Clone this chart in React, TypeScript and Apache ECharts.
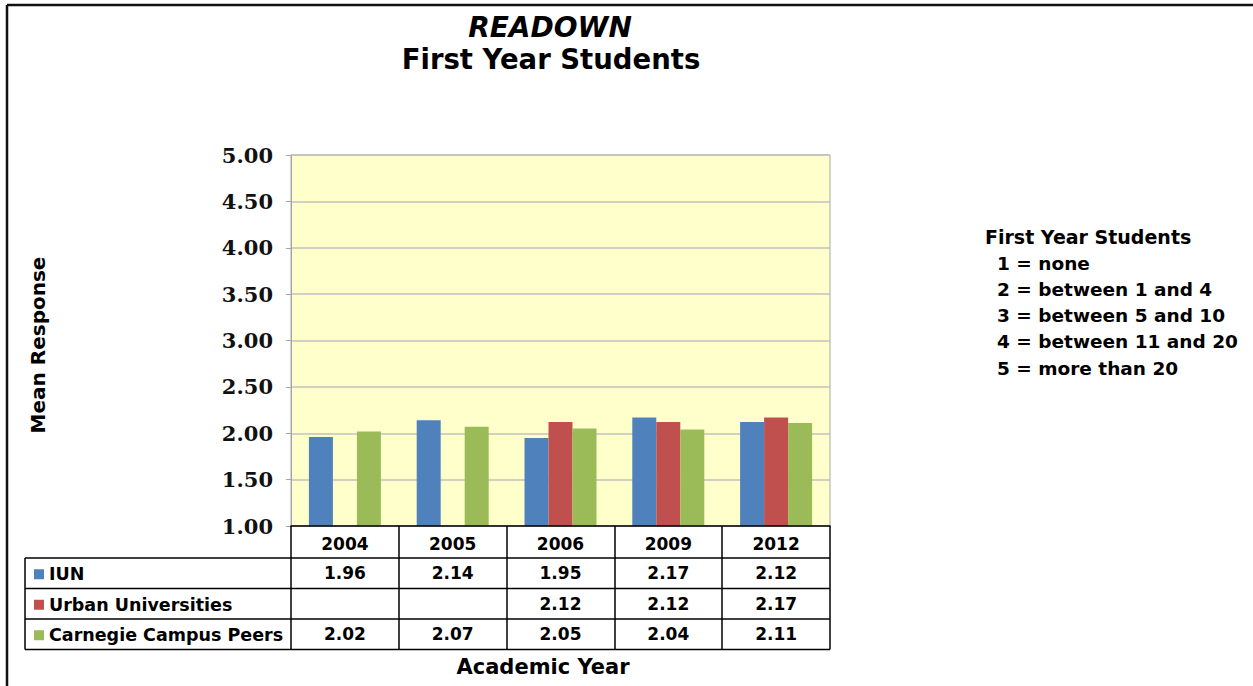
import React, { useEffect, useRef } from "react";
import * as echarts from "echarts";

const years = ["2004", "2005", "2006", "2009", "2012"];
const seriesNames = ["IUN", "Urban Universities", "Carnegie Campus Peers"];
const iun = [1.96, 2.14, 1.95, 2.17, 2.12];
const urban = [null, null, 2.12, 2.12, 2.17];
const carnegie = [2.02, 2.07, 2.05, 2.04, 2.11];
const colors = ["#4F81BD", "#C0504D", "#9BBB59"];
const yTicks = { min: 1, max: 5, interval: 0.5 };
const scaleTitle = "First Year Students";
const scaleLines = [
  "1 = none",
  "2 = between 1 and 4",
  "3 = between 5 and 10",
  "4 = between 11 and 20",
  "5 = more than 20",
];

const SANS = "'DejaVu Sans', Verdana, sans-serif";
const SERIF = "'DejaVu Serif', Georgia, serif";

export default function App() {
  const ref = useRef<HTMLDivElement>(null);
  useEffect(() => {
    if (!ref.current) return;
    const chart = echarts.init(ref.current, null, { renderer: "svg" });
    const allSeries = [iun, urban, carnegie];
    const gridLeft = 291;
    const gridTop = 155;
    const gridW = 539;
    const gridH = 371;
    const axisY = gridTop + gridH;
    const rowH = 30.5;
    const headerBottom = 558;
    const tableBottom = headerBottom + rowH * 3;
    const tableLeft = 25;

    const option: any = {
      animation: false,
      title: [
        {
          text: "READOWN",
          left: 545,
          top: 8,
          textAlign: "center",
          textStyle: { fontFamily: SANS, fontSize: 28, fontWeight: "bold", fontStyle: "italic", color: "#000" },
        },
        {
          text: "First Year Students",
          left: 546,
          top: 40,
          textAlign: "center",
          textStyle: { fontFamily: SANS, fontSize: 27.5, fontWeight: "bold", color: "#000" },
        },
      ],
      grid: {
        left: gridLeft,
        top: gridTop,
        width: gridW,
        height: gridH,
        show: true,
        backgroundColor: "#FFFFCC",
        borderColor: "#A6A6A6",
        borderWidth: 1,
      },
      legend: {
        orient: "vertical",
        left: 29,
        top: headerBottom - 4,
        itemWidth: 10,
        itemHeight: 10,
        itemGap: 0,
        icon: "rect",
        selectedMode: false,
        data: seriesNames,
        textStyle: { fontFamily: SANS, fontSize: 17.5, fontWeight: "bold", color: "#000", lineHeight: rowH },
      },
      xAxis: {
        type: "category",
        data: years,
        axisLine: { show: true, lineStyle: { color: "#000", width: 1.5 } },
        axisTick: { show: true, length: tableBottom - axisY, interval: 0, lineStyle: { color: "#000", width: 1.5 } },
        axisLabel: { fontFamily: SANS, fontSize: 17, fontWeight: "bold", color: "#000", margin: 9 },
        z: 10,
      },
      yAxis: {
        type: "value",
        min: yTicks.min,
        max: yTicks.max,
        interval: yTicks.interval,
        axisLine: { show: true, lineStyle: { color: "#A6A6A6" } },
        axisTick: { show: true, length: 5, lineStyle: { color: "#A6A6A6" } },
        axisLabel: {
          fontFamily: SERIF,
          fontSize: 21,
          fontWeight: "bold",
          color: "#111",
          margin: 18,
          formatter: (v: number) => v.toFixed(2),
        },
        splitLine: { show: true, lineStyle: { color: "#C0C0C0", width: 1.5 } },
      },
      series: seriesNames.map((name, i) => ({
        name,
        type: "bar",
        data: allSeries[i],
        barWidth: 24,
        barGap: "0%",
        itemStyle: { color: colors[i] },
      })),
    };
    chart.setOption(option);

    const centers = years.map((y) => chart.convertToPixel({ xAxisIndex: 0 }, y) as number);
    const graphics: any[] = [];
    const line = (x1: number, y1: number, x2: number, y2: number, w = 1.5, c = "#000") =>
      graphics.push({ type: "line", shape: { x1, y1, x2, y2 }, style: { stroke: c, lineWidth: w }, z: 20 });

    // frame
    line(7, 5, 1253, 5, 2.5, "#111");
    line(7, 5, 7, 686, 2.5, "#111");
    // table
    for (let r = 0; r <= 3; r++) {
      const y = headerBottom + r * rowH;
      line(tableLeft, y, gridLeft + gridW, y);
    }
    line(tableLeft, headerBottom, tableLeft, tableBottom);
    allSeries.forEach((arr, i) => {
      arr.forEach((v, j) => {
        if (v == null) return;
        graphics.push({
          type: "text",
          x: centers[j],
          y: headerBottom + rowH * (i + 0.5),
          style: {
            text: v.toFixed(2),
            fontFamily: SANS,
            fontSize: 17,
            fontWeight: "bold",
            fill: "#000",
            align: "center",
            verticalAlign: "middle",
          },
          z: 20,
        });
      });
    });
    // axis names
    graphics.push({
      type: "text",
      x: 543,
      y: 667,
      style: {
        text: "Academic Year",
        fontFamily: SANS,
        fontSize: 21,
        fontWeight: "bold",
        fill: "#000",
        align: "center",
        verticalAlign: "middle",
      },
    });
    graphics.push({
      type: "text",
      x: 38,
      y: 345,
      rotation: Math.PI / 2,
      style: {
        text: "Mean Response",
        fontFamily: SANS,
        fontSize: 20,
        fontWeight: "bold",
        fill: "#000",
        align: "center",
        verticalAlign: "middle",
      },
    });
    // scale description
    graphics.push({
      type: "text",
      x: 985,
      y: 237,
      style: {
        text: scaleTitle,
        fontFamily: SANS,
        fontSize: 19,
        fontWeight: "bold",
        fill: "#000",
        align: "left",
        verticalAlign: "middle",
      },
    });
    scaleLines.forEach((t, i) => {
      graphics.push({
        type: "text",
        x: 997,
        y: 263 + i * 26.3,
        style: {
          text: t,
          fontFamily: SANS,
          fontSize: 18.5,
          fontWeight: "bold",
          fill: "#000",
          align: "left",
          verticalAlign: "middle",
        },
      });
    });
    chart.setOption({ graphic: graphics });

    return () => chart.dispose();
  }, []);
  return (
    <div
      ref={ref}
      style={{ position: "absolute", left: 0, top: 0, width: 1253, height: 686, background: "#fff" }}
    />
  );
}
